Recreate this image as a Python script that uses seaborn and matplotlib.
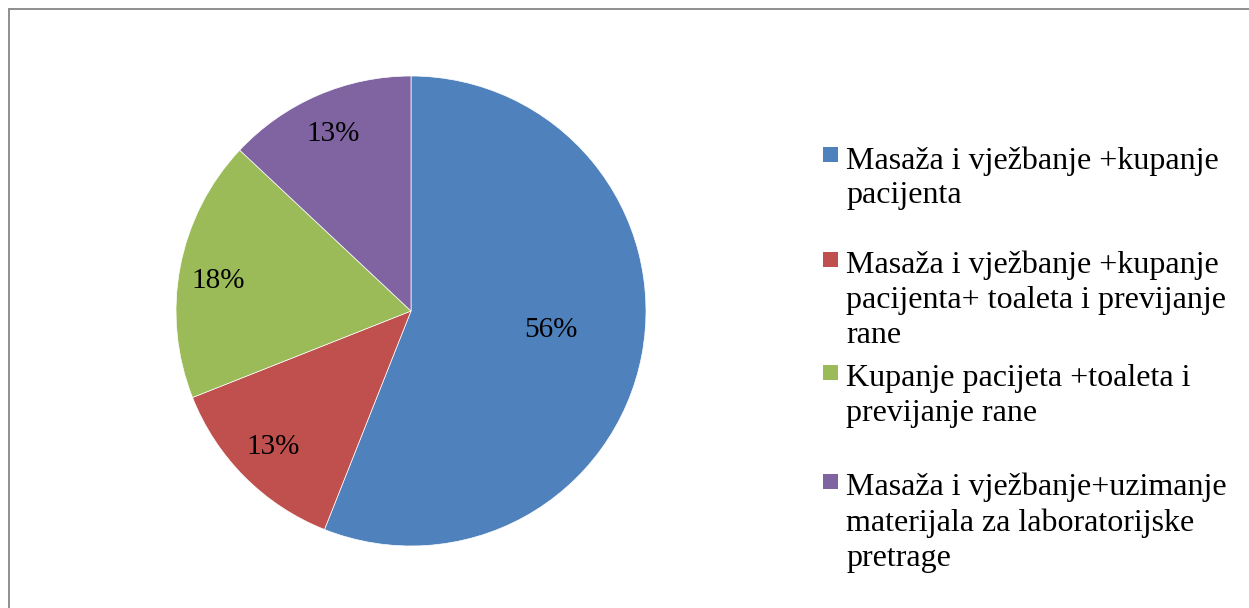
import numpy as np
import matplotlib
matplotlib.use("Agg")
import matplotlib.pyplot as plt
from matplotlib.patches import Rectangle
from matplotlib.lines import Line2D
import seaborn as sns

# ---- 数据 ----
categories = [
    "Masaža i vježbanje +kupanje\npacijenta",
    "Masaža i vježbanje +kupanje\npacijenta+ toaleta i previjanje\nrane",
    "Kupanje pacijeta +toaleta i\nprevijanje rane",
    "Masaža i vježbanje+uzimanje\nmaterijala za laboratorijske\npretrage",
]
shares = [56, 13, 18, 13]
colors = ["#4F81BD", "#C0504D", "#9BBB59", "#8064A2"]

sns.set_theme(style="white")
plt.rcParams['font.family'] = ['Liberation Serif', 'DejaVu Serif']

W, H = 1249, 608
fig = plt.figure(figsize=(W / 100, H / 100), dpi=100)
fig.patch.set_facecolor("white")

# 饼图所在区域 (像素: 中心 411,311 半径 235)
ax = fig.add_axes([176 / W, (H - 546) / H, 470 / W, 470 / H])
wedges, _, autotexts = ax.pie(
    shares, colors=sns.color_palette(colors), startangle=90, counterclock=False,
    autopct="%1.0f%%", wedgeprops=dict(edgecolor="white", linewidth=0.5),
    textprops=dict(fontsize=21, color="black"))
ax.set_xlim(-1, 1)
ax.set_ylim(-1, 1)
ax.set_aspect("equal")

# 标签位置（类似 Excel 的 best fit）: 距离 + 角度微调
dist = [0.6, 0.816, 0.83, 0.833]
nudge = [4.3, -1.1, 1.2, 0.0]
half_digit = 10 / 235  # 数字高度的一半 (数据单位)
for w, t, d, a in zip(wedges, autotexts, dist, nudge):
    ang = np.deg2rad((w.theta1 + w.theta2) / 2 + a)
    t.set_position((d * np.cos(ang), d * np.sin(ang) - half_digit))
    t.set_ha("center")
    t.set_va("baseline")

# ---- 图例（手动排版）----
baselines = [164, 269, 382, 491]
for lab, c, yb in zip(categories, colors, baselines):
    fig.add_artist(Rectangle((823 / W, (H - yb + 2) / H), 15 / W, 15 / H,
                             transform=fig.transFigure, facecolor=c, edgecolor="none"))
    fig.text(846 / W, (H - yb + 18) / H, lab, fontsize=23, va="top", ha="left",
             linespacing=1.27, color="black")

# ---- 外框 ----
bc = "#868686"
fig.add_artist(Line2D([8.5 / W, 8.5 / W], [0, (H - 8.5) / H], transform=fig.transFigure,
                      color=bc, lw=1.3))
fig.add_artist(Line2D([8.5 / W, 1], [(H - 8.5) / H, (H - 8.5) / H], transform=fig.transFigure,
                      color=bc, lw=1.3))

fig.savefig("out.png", dpi=100)
